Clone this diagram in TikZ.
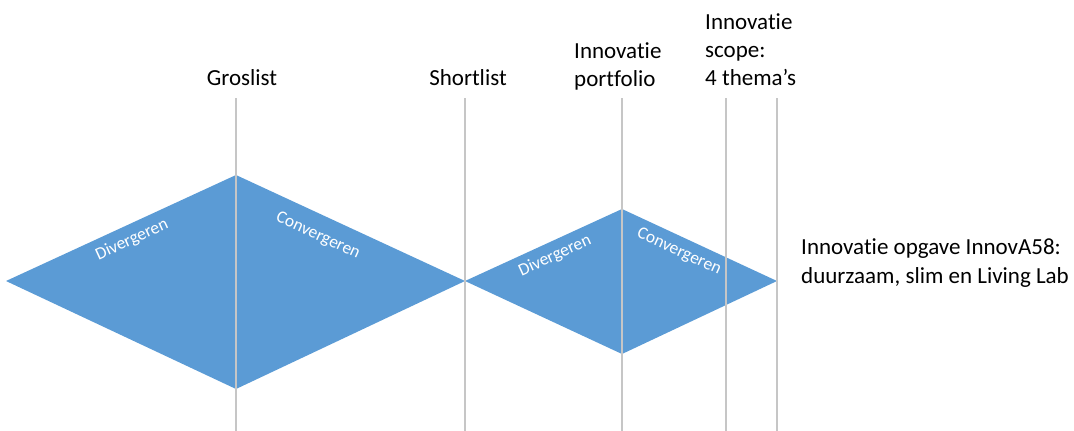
\documentclass[tikz,border=0pt]{standalone}
\usepackage{fontspec}
\setmainfont{Carlito}[Ligatures=NoCommon]
\usetikzlibrary{positioning}

\definecolor{ruitblauw}{HTML}{5B9BD5}
\definecolor{lijngrijs}{HTML}{C6C6C6}

\begin{document}
\begin{tikzpicture}[x=1pt,y=-1pt,
        kop/.style={font=\fontsize{23}{28}\selectfont, align=left, inner sep=0pt, anchor=base west},
        fase/.style={font=\fontsize{17.5}{20}\selectfont, text=white, inner sep=0pt},
        mijlpaal/.style={draw=lijngrijs, line width=1.3pt}]
                \useasboundingbox (0,0) rectangle (1074,431);
                % hoekpunten van de twee ruiten
                \coordinate (links1) at (6,281);
                \coordinate (boven1) at (236,175);
                \coordinate (rechts1) at (465,281);
                \coordinate (onder1) at (236,389);
                \coordinate (boven2) at (622,209);
                \coordinate (rechts2) at (777,281);
                \coordinate (onder2) at (622,354);
                \fill[ruitblauw] (links1) -- (boven1) -- (rechts1) -- (onder1) -- cycle;
                \fill[ruitblauw] (rechts1) -- (boven2) -- (rechts2) -- (onder2) -- cycle;

                % mijlpalen
                \foreach \naam/\x in {gros/236, short/465, port/622, scope/726, opgave/777} {
                    \coordinate (\naam-top) at (\x,98);
                    \coordinate (\naam-bot) at (\x,431);
                    \draw[mijlpaal] (\naam-top) -- (\naam-bot);
                }

                % base anchor = basislijn van de laatste regel
                \node[kop, anchor=base] (groslist) at (242,85) {Groslist};
                \node[kop, anchor=base] (shortlist) at (468,85) {Shortlist};
                \node[kop] (portfolio) at (574,86) {Innovatie\\portfolio};
                \node[kop] (scope) at (705,85) {Innovatie\\scope:\\4 thema’s};
                \node[kop, font=\fontsize{23}{29}\selectfont] (opgave) at (801,283) {Innovatie opgave InnovA58:\\duurzaam, slim en Living Lab};

                \node[fase, rotate=24.7] (div1) at (132,240) {Divergeren};
                \node[fase, rotate=-24.7] (con1) at (318,236) {Convergeren};
                \node[fase, rotate=24.6] (div2) at (555,256) {Divergeren};
                \node[fase, rotate=-24.6] (con2) at (679,252) {Convergeren};
\end{tikzpicture}
\end{document}
